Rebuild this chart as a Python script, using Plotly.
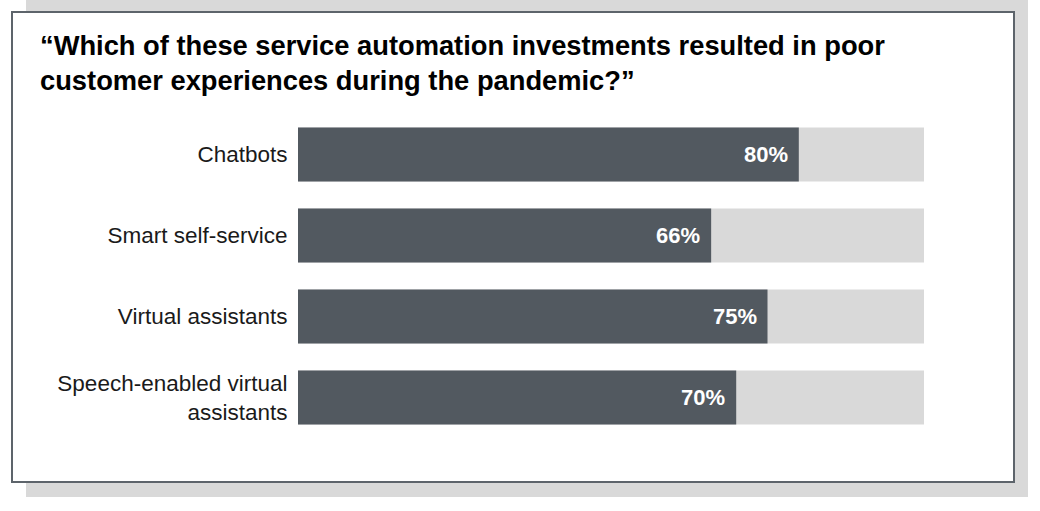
import plotly.graph_objects as go

categories = ["Chatbots", "Smart self-service", "Virtual assistants", "Speech-enabled virtual<br>assistants"]
values = [80, 66, 75, 70]
totals = [100, 100, 100, 100]
title_text = "“Which of these service automation investments resulted in poor<br>customer experiences during the pandemic?”"

W, H = 1040, 511
ML, MR, MT, MB = 298, 116, 114, 73
PW = W - ML - MR
PH = H - MT - MB

def px_x(px):
    return (px - ML) / PW

def px_y(py):
    return (H - MB - py) / PH

FONT = "Liberation Sans, Arial, Helvetica, sans-serif"

fig = go.Figure()
fig.add_trace(go.Bar(
    y=categories, x=totals, orientation="h",
    marker=dict(color="#d9d9d9", line=dict(width=0)),
    hoverinfo="skip", showlegend=False,
))
fig.add_trace(go.Bar(
    y=categories, x=values, orientation="h",
    marker=dict(color="#525960", line=dict(width=0)),
    showlegend=False,
))

for c, v in zip(categories, values):
    fig.add_annotation(
        x=v, y=c, xref="x", yref="y", text=f"<b>{v}%</b>",
        showarrow=False, xanchor="right", xshift=-9,
        font=dict(family=FONT, size=22, color="white"),
    )

fig.add_annotation(
    x=px_x(38), y=px_y(28), xref="paper", yref="paper",
    text=f"<b>{title_text}</b>", showarrow=False,
    xanchor="left", yanchor="top", align="left",
    font=dict(family=FONT, size=27.3, color="black"),
)

shapes = [
    dict(type="rect", xref="paper", yref="paper", layer="below",
         x0=px_x(26), x1=px_x(1028), y0=px_y(0), y1=px_y(497),
         fillcolor="#d9d9d9", line=dict(width=0)),
    dict(type="rect", xref="paper", yref="paper", layer="below",
         x0=px_x(12), x1=px_x(1014), y0=px_y(12), y1=px_y(482),
         fillcolor="white", line=dict(color="#5d646b", width=2)),
]

fig.update_layout(
    width=W, height=H,
    margin=dict(l=ML, r=MR, t=MT, b=MB, autoexpand=False),
    barmode="overlay", bargap=1/3,
    paper_bgcolor="white", plot_bgcolor="rgba(0,0,0,0)",
    shapes=shapes,
    xaxis=dict(range=[0, 100], visible=False, fixedrange=True),
    yaxis=dict(autorange="reversed", showgrid=False, zeroline=False, showline=False,
               ticks="outside", ticklen=5, tickcolor="rgba(0,0,0,0)",
               tickfont=dict(family=FONT, size=22.5, color="#1a1a1a")),
    font=dict(family=FONT),
)

fig.write_html("out.html", config={"displayModeBar": False},
               post_script="document.body.style.margin='0';document.body.style.overflow='hidden';")
